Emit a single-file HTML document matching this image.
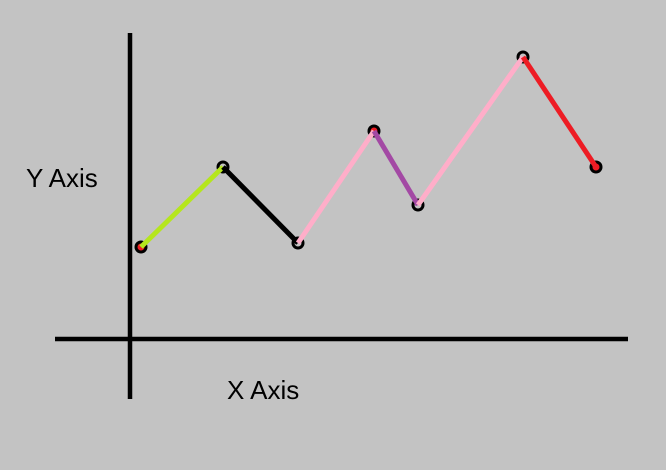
<!DOCTYPE html>
<html><head><meta charset="utf-8"><style>
body{margin:0;background:#c3c3c3;}
svg{display:block;}
text{font-family:"Liberation Sans",sans-serif;font-size:26px;fill:#000;}
</style></head><body>
<svg id="chart" width="666" height="470">
<rect width="666" height="470" fill="#c3c3c3"/>
<line x1="130" y1="33" x2="130" y2="399" stroke="#000" stroke-width="4.5"/>
<line x1="55" y1="339" x2="628" y2="339" stroke="#000" stroke-width="4.5"/>
<text x="26" y="187">Y Axis</text>
<text x="227" y="399">X Axis</text>
<g id="marks"></g>
</svg>
<script>
const xValues=[1.1,9.3,16.8,24.4,28.8,39.3,46.6];
const yValues=[9.2,17.2,9.6,20.8,13.4,28.2,17.2];
const segColors=["#b5e61d","#000000","#ffaec9","#a349a4","#ffaec9","#ed1c24"];
const markerFills=["#ed1c24","none","none","#ed1c24","none","none","#ed1c24"];
function xs(v){return 130+v*10;}
function ys(v){return 339-v*10;}
const g=document.getElementById('marks');
const NS="http://www.w3.org/2000/svg";
for(let i=0;i<xValues.length;i++){
  const c=document.createElementNS(NS,'circle');
  c.setAttribute('cx',xs(xValues[i]));c.setAttribute('cy',ys(yValues[i]));
  c.setAttribute('r',5);c.setAttribute('fill',markerFills[i]);
  c.setAttribute('stroke','#000');c.setAttribute('stroke-width',3);
  
  
  g.appendChild(c);
}
for(let i=0;i<xValues.length-1;i++){
  const l=document.createElementNS(NS,'line');
  l.setAttribute('x1',xs(xValues[i]));l.setAttribute('y1',ys(yValues[i]));
  l.setAttribute('x2',xs(xValues[i+1]));l.setAttribute('y2',ys(yValues[i+1]));
  l.setAttribute('stroke',segColors[i]);l.setAttribute('stroke-width',5);
  
  
  g.appendChild(l);
}
</script>
</body></html>
